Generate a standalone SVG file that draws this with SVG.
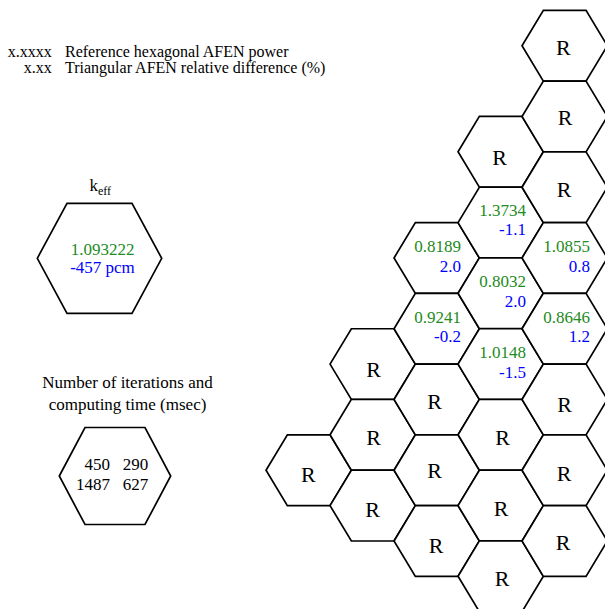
<svg xmlns="http://www.w3.org/2000/svg" xmlns:xlink="http://www.w3.org/1999/xlink" width="605" height="609" viewBox="0 0 605 609" font-family="'Liberation Serif', 'Times New Roman', 'DejaVu Serif', serif">
<style>
text{font-family:'Liberation Serif','Times New Roman','DejaVu Serif',serif}
.hex{fill:#fff;stroke:#000;stroke-width:1.7;stroke-linejoin:miter}
.r{font-size:22px;text-anchor:middle}
.g{font-size:17px;fill:#228b22;text-anchor:end}
.b{font-size:17px;fill:#0000ff;text-anchor:end}
.lg{font-size:16px}
.t{font-size:17px}
</style>
<defs>
<polygon id="hx" points="-42.67,0 -21.33,-35.375 21.33,-35.375 42.67,0 21.33,35.375 -21.33,35.375"/>
</defs>
<rect width="605" height="609" fill="#fff"/>

<g id="legend">
<text class="lg" x="51.7" y="56.7" text-anchor="end">x.xxxx</text>
<text class="lg" x="65" y="56.7">Reference hexagonal AFEN power</text>
<text class="lg" x="51.7" y="73.3" text-anchor="end">x.xx</text>
<text class="lg" x="65" y="73.3">Triangular AFEN relative difference (%)</text>
</g>

<g id="keff">
<text class="t" x="89.5" y="191">k<tspan font-size="12" dy="4">eff</tspan></text>
<polygon class="hex" points="37.3,258.3 67,203.3 132,203.3 161.7,258.3 132,313.3 67,313.3"/>
<text class="t" x="102.5" y="255" text-anchor="middle" style="fill:#228b22">1.093222</text>
<text class="t" x="102.5" y="273.3" text-anchor="middle" style="fill:#0000ff">-457 pcm</text>
</g>

<g id="iterations">
<text class="t" x="127.5" y="388.3" text-anchor="middle">Number of iterations and</text>
<text class="t" x="127.5" y="409.5" text-anchor="middle">computing time (msec)</text>
<polygon class="hex" points="59.3,476 85,427.5 145,427.5 170.7,476 145,524.5 85,524.5"/>
<text class="t" x="110" y="470" text-anchor="end">450</text>
<text class="t" x="148.3" y="470" text-anchor="end">290</text>
<text class="t" x="110" y="490" text-anchor="end">1487</text>
<text class="t" x="148.3" y="490" text-anchor="end">627</text>
</g>

<g id="c1r1"><use xlink:href="#hx" href="#hx" x="308.7" y="470.2" class="hex"/><text class="r" x="308.3" y="481.7">R</text></g>

<g id="c2r1"><use xlink:href="#hx" href="#hx" x="372.7" y="364.1" class="hex"/><text class="r" x="373.5" y="377.3">R</text></g>
<g id="c2r2"><use xlink:href="#hx" href="#hx" x="372.7" y="434.8" class="hex"/><text class="r" x="373.5" y="445">R</text></g>
<g id="c2r3"><use xlink:href="#hx" href="#hx" x="372.7" y="505.6" class="hex"/><text class="r" x="372.5" y="516.7">R</text></g>

<g id="c3r1"><use xlink:href="#hx" href="#hx" x="436.7" y="257.95" class="hex"/><text class="g" x="461" y="251.7">0.8189</text><text class="b" x="461" y="272.3">2.0</text></g>
<g id="c3r2"><use xlink:href="#hx" href="#hx" x="436.7" y="328.7" class="hex"/><text class="g" x="461" y="322.7">0.9241</text><text class="b" x="461" y="342.3">-0.2</text></g>
<g id="c3r3"><use xlink:href="#hx" href="#hx" x="436.7" y="399.45" class="hex"/><text class="r" x="434.7" y="409.3">R</text></g>
<g id="c3r4"><use xlink:href="#hx" href="#hx" x="436.7" y="470.2" class="hex"/><text class="r" x="434.7" y="478.3">R</text></g>
<g id="c3r5"><use xlink:href="#hx" href="#hx" x="436.7" y="540.95" class="hex"/><text class="r" x="436" y="553.3">R</text></g>

<g id="c4r1"><use xlink:href="#hx" href="#hx" x="500.7" y="151.8" class="hex"/><text class="r" x="499.5" y="165">R</text></g>
<g id="c4r2"><use xlink:href="#hx" href="#hx" x="500.7" y="222.6" class="hex"/><text class="g" x="526" y="216">1.3734</text><text class="b" x="526" y="234.5">-1.1</text></g>
<g id="c4r3"><use xlink:href="#hx" href="#hx" x="500.7" y="293.3" class="hex"/><text class="g" x="526" y="287.3">0.8032</text><text class="b" x="526" y="306.7">2.0</text></g>
<g id="c4r4"><use xlink:href="#hx" href="#hx" x="500.7" y="364.1" class="hex"/><text class="g" x="526" y="358.3">1.0148</text><text class="b" x="526" y="378.3">-1.5</text></g>
<g id="c4r5"><use xlink:href="#hx" href="#hx" x="500.7" y="434.8" class="hex"/><text class="r" x="502.5" y="445">R</text></g>
<g id="c4r6"><use xlink:href="#hx" href="#hx" x="500.7" y="505.6" class="hex"/><text class="r" x="501" y="516">R</text></g>
<g id="c4r7"><use xlink:href="#hx" href="#hx" x="500.7" y="576.3" class="hex"/><text class="r" x="502" y="586">R</text></g>

<g id="c5r1"><use xlink:href="#hx" href="#hx" x="564.7" y="45.7" class="hex"/><text class="r" x="563.3" y="55">R</text></g>
<g id="c5r2"><use xlink:href="#hx" href="#hx" x="564.7" y="116.45" class="hex"/><text class="r" x="565" y="125">R</text></g>
<g id="c5r3"><use xlink:href="#hx" href="#hx" x="564.7" y="187.2" class="hex"/><text class="r" x="564" y="196.7">R</text></g>
<g id="c5r4"><use xlink:href="#hx" href="#hx" x="564.7" y="257.95" class="hex"/><text class="g" x="590" y="251.7">1.0855</text><text class="b" x="590" y="271.7">0.8</text></g>
<g id="c5r5"><use xlink:href="#hx" href="#hx" x="564.7" y="328.7" class="hex"/><text class="g" x="590" y="322.7">0.8646</text><text class="b" x="590" y="342.3">1.2</text></g>
<g id="c5r6"><use xlink:href="#hx" href="#hx" x="564.7" y="399.45" class="hex"/><text class="r" x="564.7" y="411.7">R</text></g>
<g id="c5r7"><use xlink:href="#hx" href="#hx" x="564.7" y="470.2" class="hex"/><text class="r" x="564" y="480.7">R</text></g>
<g id="c5r8"><use xlink:href="#hx" href="#hx" x="564.7" y="540.95" class="hex"/><text class="r" x="563" y="550">R</text></g>

<g id="connectors"></g>
</svg>
